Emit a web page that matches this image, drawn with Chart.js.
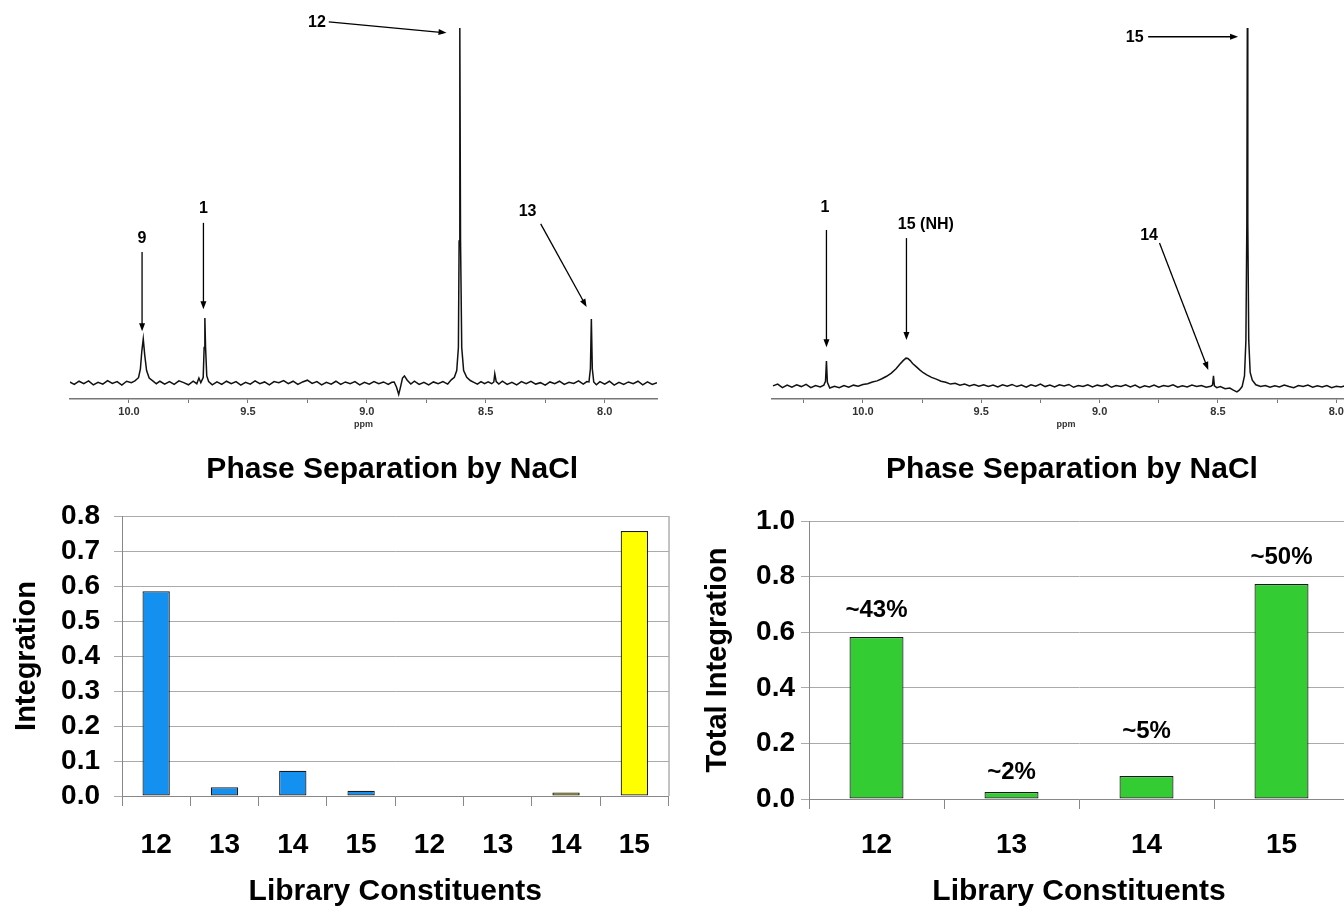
<!DOCTYPE html>
<html>
<head>
<meta charset="utf-8">
<script src="https://cdn.jsdelivr.net/npm/chart.js@4.4.1/dist/chart.umd.min.js"></script>
<style>
  html, body { margin: 0; padding: 0; background: #fff; overflow: hidden; width: 1344px; height: 912px; }
  canvas { position: absolute; }
</style>
</head>
<body>
<canvas id="specA" width="672" height="430" style="left:0;top:0"></canvas>
<canvas id="specB" width="720" height="430" style="left:672px;top:0"></canvas>
<canvas id="barA" width="672" height="472" style="left:0;top:440px"></canvas>
<canvas id="barB" width="700" height="472" style="left:680px;top:440px"></canvas>
<script>
// --- spectra: [ppm, relative intensity] ---
const spectrumA = [
  [10.25, 0.3], [10.23, -0.4], [10.21, 0.5], [10.19, -0.2], [10.17, 0.6], [10.15, -0.5], [10.13, 0.2],
  [10.11, -0.3], [10.09, 0.7], [10.07, -0.1], [10.05, 0.4], [10.03, -0.6], [10.01, 0.5], [9.99, 0.1],
  [9.975, 0.6], [9.96, 1.5], [9.952, 4], [9.946, 9], [9.94, 12.4], [9.934, 8], [9.926, 3.5], [9.915, 1.4],
  [9.9, 0.6], [9.885, -0.2], [9.87, 0.5], [9.85, -0.3], [9.83, 0.4], [9.81, -0.4], [9.79, 0.6], [9.77, 0.1],
  [9.75, -0.5], [9.73, 0.5], [9.715, -0.2], [9.706, 1.4], [9.698, 0.1], [9.688, 1.5], [9.684, 10],
  [9.681, 18.3], [9.678, 10], [9.673, 2], [9.665, 0.4], [9.65, -0.5], [9.63, 0.3], [9.61, -0.4],
  [9.59, 0.5], [9.57, -0.2], [9.55, 0.4], [9.53, -0.6], [9.51, 0.2], [9.49, -0.3], [9.47, 0.6],
  [9.45, -0.2], [9.43, 0.3], [9.41, -0.5], [9.39, 0.4], [9.37, 0.1], [9.35, 0.7], [9.33, -0.2],
  [9.31, 0.5], [9.29, -0.4], [9.27, 0.3], [9.25, 0.8], [9.23, -0.1], [9.21, 0.4], [9.19, -0.5],
  [9.17, 0.2], [9.15, -0.3], [9.13, 0.5], [9.11, -0.4], [9.09, 0.3], [9.07, -0.2], [9.05, 0.4],
  [9.03, -0.5], [9.01, 0.2], [8.99, -0.3], [8.97, 0.4], [8.95, -0.2], [8.93, 0.3], [8.91, -0.4],
  [8.895, 0.2], [8.885, 0.3], [8.875, -1.2], [8.866, -3.2], [8.858, -1.0], [8.85, 1.4], [8.842, 2.0],
  [8.83, 0.8], [8.815, -0.3], [8.8, 0.5], [8.78, -0.4], [8.76, 0.2], [8.74, -0.5], [8.72, 0.3],
  [8.7, -0.2], [8.68, 0.4], [8.66, -0.3], [8.645, 0.9], [8.632, 1.6], [8.622, 3.5], [8.615, 10],
  [8.612, 40], [8.609, 100], [8.606, 40], [8.601, 10], [8.593, 3.5], [8.58, 1.6], [8.565, 0.7],
  [8.55, 0.2], [8.535, -0.3], [8.52, 0.4], [8.505, -0.2], [8.49, 0.3], [8.475, -0.2], [8.466, 0.3],
  [8.462, 2.6], [8.456, 0.4], [8.445, -0.3], [8.43, 0.5], [8.41, -0.4], [8.39, 0.2], [8.37, -0.5],
  [8.35, 0.4], [8.33, -0.2], [8.31, 0.5], [8.29, -0.3], [8.27, 0.1], [8.25, -0.6], [8.23, 0.3],
  [8.21, -0.2], [8.19, 0.5], [8.17, -0.4], [8.15, 0.2], [8.13, -0.1], [8.11, 0.6], [8.09, -0.3],
  [8.075, 0.4], [8.066, 0.3], [8.06, 4], [8.056, 18], [8.052, 4], [8.046, 0.3], [8.035, -0.5],
  [8.02, 0.4], [8.0, -0.3], [7.98, 0.5], [7.96, -0.6], [7.94, 0.2], [7.92, -0.4], [7.9, 0.3],
  [7.88, -0.2], [7.86, 0.5], [7.84, -0.5], [7.82, 0.3], [7.8, -0.4], [7.78, 0.1]
];

const spectrumB = [
  [10.38, -0.8], [10.36, -0.3], [10.34, -1.3], [10.32, -0.6], [10.3, -1.2], [10.28, -0.5], [10.26, -1.0],
  [10.24, -0.4], [10.22, -1.3], [10.2, -0.7], [10.18, -1.1], [10.165, -0.6], [10.158, 0.5], [10.154, 6.2],
  [10.15, 0.2], [10.14, -1.4], [10.12, -0.9], [10.1, -1.3], [10.08, -0.7], [10.06, -1.2], [10.04, -0.6],
  [10.02, -0.9], [10.0, -0.4], [9.98, -0.2], [9.96, 0.3], [9.94, 0.6], [9.92, 1.2], [9.9, 1.9],
  [9.88, 2.8], [9.86, 4.0], [9.845, 5.2], [9.83, 6.3], [9.818, 7.0], [9.81, 6.9], [9.8, 6.3],
  [9.79, 5.5], [9.775, 4.6], [9.76, 3.7], [9.745, 2.9], [9.73, 2.3], [9.71, 1.6], [9.69, 1.1],
  [9.67, 0.5], [9.65, 0.2], [9.63, -0.3], [9.61, -0.1], [9.59, -0.6], [9.57, -0.3], [9.55, -0.8],
  [9.53, -0.4], [9.51, -0.9], [9.49, -0.5], [9.47, -1.0], [9.45, -0.6], [9.43, -1.1], [9.41, -0.5],
  [9.39, -0.9], [9.37, -0.4], [9.35, -1.0], [9.33, -0.6], [9.31, -1.2], [9.29, -0.5], [9.27, -0.9],
  [9.25, -0.3], [9.23, -1.0], [9.21, -0.6], [9.19, -1.1], [9.17, -0.5], [9.15, -0.8], [9.13, -0.4],
  [9.11, -1.2], [9.09, -0.7], [9.07, -1.0], [9.05, -0.5], [9.03, -1.1], [9.01, -0.6], [8.99, -0.9],
  [8.97, -0.4], [8.95, -1.2], [8.93, -0.7], [8.91, -1.0], [8.89, -0.5], [8.87, -1.1], [8.85, -0.6],
  [8.83, -1.3], [8.81, -0.8], [8.79, -1.1], [8.77, -0.6], [8.75, -1.2], [8.73, -0.7], [8.71, -1.0],
  [8.69, -0.5], [8.67, -1.2], [8.65, -0.8], [8.63, -1.1], [8.61, -0.6], [8.59, -1.0], [8.57, -0.7],
  [8.55, -1.2], [8.53, -0.9], [8.523, -0.6], [8.519, 2.0], [8.515, -0.8], [8.505, -1.3], [8.49, -1.0],
  [8.47, -1.6], [8.45, -1.4], [8.435, -2.0], [8.42, -2.5], [8.41, -2.0], [8.398, -1.0], [8.388, 2],
  [8.382, 12], [8.378, 45], [8.376, 100], [8.374, 45], [8.37, 12], [8.364, 3], [8.355, 0.8],
  [8.34, -0.5], [8.32, -1.0], [8.3, -0.7], [8.28, -1.2], [8.26, -0.8], [8.24, -1.1], [8.22, -0.6],
  [8.2, -1.0], [8.18, -1.3], [8.16, -0.7], [8.14, -1.0], [8.12, -0.6], [8.1, -1.2], [8.08, -0.8],
  [8.06, -1.1], [8.04, -0.7], [8.02, -1.3], [8.0, -0.9], [7.98, -1.1], [7.96, -0.7], [7.94, -1.2],
  [7.92, -0.8], [7.9, -1.0]
];

// peak labels with arrows, in (ppm, intensity) units
const peakNotesA = [
  { text: '12', at: [9.21, 101.4], from: [9.16, 101.7], to: [8.665, 98.6] },
  { text: '9', at: [9.945, 40.8], from: [9.945, 36.9], to: [9.945, 14.6] },
  { text: '1', at: [9.687, 49.0], from: [9.687, 45.1], to: [9.687, 20.8] },
  { text: '13', at: [8.324, 48.2], from: [8.269, 44.8], to: [8.076, 21.4] }
];
const peakNotesB = [
  { text: '15', at: [8.852, 97.2], from: [8.795, 97.5], to: [8.415, 97.5] },
  { text: '1', at: [10.16, 49.3], from: [10.154, 43.1], to: [10.154, 10.1] },
  { text: '15 (NH)', at: [9.734, 44.5], from: [9.816, 40.8], to: [9.816, 12.1] },
  { text: '14', at: [8.791, 41.4], from: [8.747, 39.4], to: [8.541, 3.7] }
];

// --- bar charts ---
const constituents = ['12', '13', '14', '15', '12', '13', '14', '15'];
const integration = [0.585, 0.025, 0.072, 0.015, 0, 0, 0.01, 0.757];
const totalConstituents = ['12', '13', '14', '15'];
const totalIntegration = [0.583, 0.025, 0.083, 0.773];
const totalPercent = ['~43%', '~2%', '~5%', '~50%'];

const FONT = '"Liberation Sans", Arial, Helvetica, sans-serif';
Chart.defaults.font.family = FONT;
Chart.defaults.font.weight = 'bold';
Chart.defaults.color = '#000';
Chart.defaults.animation = false;

// arrows + labels on the spectra
const arrowNotes = {
  id: 'arrowNotes',
  afterDatasetsDraw(chart, args, opts) {
    const { ctx, scales: { x, y } } = chart;
    ctx.save();
    ctx.fillStyle = '#000';
    ctx.strokeStyle = '#000';
    ctx.lineWidth = 1.3;
    ctx.font = 'bold 16px ' + FONT;
    ctx.textAlign = 'center';
    ctx.textBaseline = 'middle';
    opts.items.forEach(n => {
      ctx.fillText(n.text, x.getPixelForValue(n.at[0]), y.getPixelForValue(n.at[1]));
      const x1 = x.getPixelForValue(n.from[0]), y1 = y.getPixelForValue(n.from[1]);
      const x2 = x.getPixelForValue(n.to[0]), y2 = y.getPixelForValue(n.to[1]);
      const a = Math.atan2(y2 - y1, x2 - x1);
      ctx.beginPath();
      ctx.moveTo(x1, y1);
      ctx.lineTo(x2 - 6 * Math.cos(a), y2 - 6 * Math.sin(a));
      ctx.stroke();
      ctx.beginPath();
      ctx.moveTo(x2, y2);
      ctx.lineTo(x2 - 8 * Math.cos(a) + 3 * Math.sin(a), y2 - 8 * Math.sin(a) - 3 * Math.cos(a));
      ctx.lineTo(x2 - 8 * Math.cos(a) - 3 * Math.sin(a), y2 - 8 * Math.sin(a) + 3 * Math.cos(a));
      ctx.closePath();
      ctx.fill();
    });
    ctx.restore();
  }
};

// title centred over the plot area, plus optional right border
const panelTitle = {
  id: 'panelTitle',
  afterDraw(chart, args, opts) {
    const { ctx, chartArea } = chart;
    ctx.save();
    if (opts.rightBorder) {
      ctx.strokeStyle = '#888';
      ctx.lineWidth = 1;
      ctx.beginPath();
      ctx.moveTo(chartArea.right + 0.5, chartArea.top);
      ctx.lineTo(chartArea.right + 0.5, chartArea.bottom);
      ctx.stroke();
    }
    ctx.fillStyle = '#000';
    ctx.font = 'bold 30px ' + FONT;
    ctx.textAlign = 'center';
    ctx.textBaseline = 'middle';
    ctx.fillText(opts.text, (chartArea.left + chartArea.right) / 2 + (opts.dx || 0), opts.y);
    ctx.restore();
  }
};

// percentage labels over the bars
const barLabels = {
  id: 'barLabels',
  afterDatasetsDraw(chart, args, opts) {
    const { ctx } = chart;
    const bars = chart.getDatasetMeta(0).data;
    ctx.save();
    ctx.fillStyle = '#000';
    ctx.font = 'bold 24px ' + FONT;
    ctx.textAlign = 'center';
    ctx.textBaseline = 'middle';
    bars.forEach((b, i) => ctx.fillText(opts.labels[i], b.x, b.y - opts.lift[i]));
    ctx.restore();
  }
};

function spectrumChart(id, points, notes, ppmMin, ppmMax, padLeft, padRight) {
  return new Chart(document.getElementById(id), {
    type: 'line',
    data: {
      datasets: [{
        data: points.map(p => ({ x: p[0], y: p[1] })),
        borderColor: '#111',
        borderWidth: 1.5,
        pointRadius: 0,
        tension: 0,
        fill: false
      }]
    },
    options: {
      responsive: false,
      events: [],
      layout: { padding: { left: padLeft, right: padRight, top: 19, bottom: 0 } },
      plugins: { legend: { display: false }, tooltip: { enabled: false }, arrowNotes: { items: notes } },
      scales: {
        x: {
          type: 'linear',
          reverse: true,
          min: ppmMin,
          max: ppmMax,
          afterFit(s) { s.height = 31; },
          border: { color: '#777', width: 1.5 },
          grid: { drawOnChartArea: false, tickLength: 4, color: '#777' },
          ticks: {
            stepSize: 0.25,
            includeBounds: false,
            autoSkip: false,
            maxRotation: 0,
            padding: 2,
            color: '#333',
            font: { size: 11, weight: 'bold' },
            callback: v => Math.abs(v * 2 - Math.round(v * 2)) < 1e-6 ? v.toFixed(1) : ''
          },
          title: { display: true, text: 'ppm', color: '#333', font: { size: 9, weight: 'bold' }, padding: 0 }
        },
        y: { display: false, min: -4.5, max: 102.5 }
      }
    },
    plugins: [arrowNotes]
  });
}

spectrumChart('specA', spectrumA, peakNotesA, 7.78, 10.248, 70, 15);
spectrumChart('specB', spectrumB, peakNotesB, 7.9, 10.384, 100, 32);

const blue = '#1490F0';
const yellow = '#FFFF00';
const green = '#33CC33';

function barScales(yMax, yStep, yTitle, yWidth, titlePad, tickPad, xHeight, xPad) {
  return {
    x: {
      afterFit(s) { s.height = xHeight; },
      border: { color: '#888', width: 1 },
      grid: { drawOnChartArea: false, tickLength: 10, color: '#888', offset: true },
      ticks: { padding: xPad, font: { size: 28, weight: 'bold' } },
      title: { display: true, text: 'Library Constituents', font: { size: 30, weight: 'bold' }, padding: { top: 0, bottom: 2 } }
    },
    y: {
      min: 0,
      max: yMax,
      afterFit(s) { s.width = yWidth; },
      border: { color: '#888', width: 1 },
      grid: { color: '#aaa', tickLength: 8 },
      ticks: { stepSize: yStep, autoSkip: false, padding: tickPad, font: { size: 28, weight: 'bold' }, callback: v => v.toFixed(1) },
      title: { display: true, text: yTitle, font: { size: 29, weight: 'bold' }, padding: { top: titlePad, bottom: 0 } }
    }
  };
}

const barStyle = { borderColor: '#1a1a1a', borderWidth: 1.2, borderSkipped: false, barPercentage: 0.4, categoryPercentage: 1 };

new Chart(document.getElementById('barA'), {
  type: 'bar',
  data: {
    labels: constituents,
    datasets: [Object.assign({
      data: integration,
      backgroundColor: integration.map((v, i) => i < 4 ? blue : yellow)
    }, barStyle)]
  },
  options: {
    responsive: false,
    events: [],
    layout: { padding: { left: 0, right: 1, top: 76, bottom: 0 } },
    plugins: {
      legend: { display: false },
      tooltip: { enabled: false },
      panelTitle: { text: 'Phase Separation by NaCl', y: 30, dx: -3, rightBorder: true }
    },
    scales: barScales(0.8, 0.1, 'Integration', 122, 10, 14, 116, 22)
  },
  plugins: [panelTitle]
});

new Chart(document.getElementById('barB'), {
  type: 'bar',
  data: {
    labels: totalConstituents,
    datasets: [Object.assign({
      data: totalIntegration,
      backgroundColor: green
    }, barStyle)]
  },
  options: {
    responsive: false,
    events: [],
    layout: { padding: { left: 0, right: 31, top: 81, bottom: 0 } },
    plugins: {
      legend: { display: false },
      tooltip: { enabled: false },
      panelTitle: { text: 'Phase Separation by NaCl', y: 30, dx: -7 },
      barLabels: { labels: totalPercent, lift: [27, 20, 45, 27] }
    },
    scales: barScales(1.0, 0.2, 'Total Integration', 129, 21, 6, 113, 19)
  },
  plugins: [panelTitle, barLabels]
});
</script>
</body>
</html>
